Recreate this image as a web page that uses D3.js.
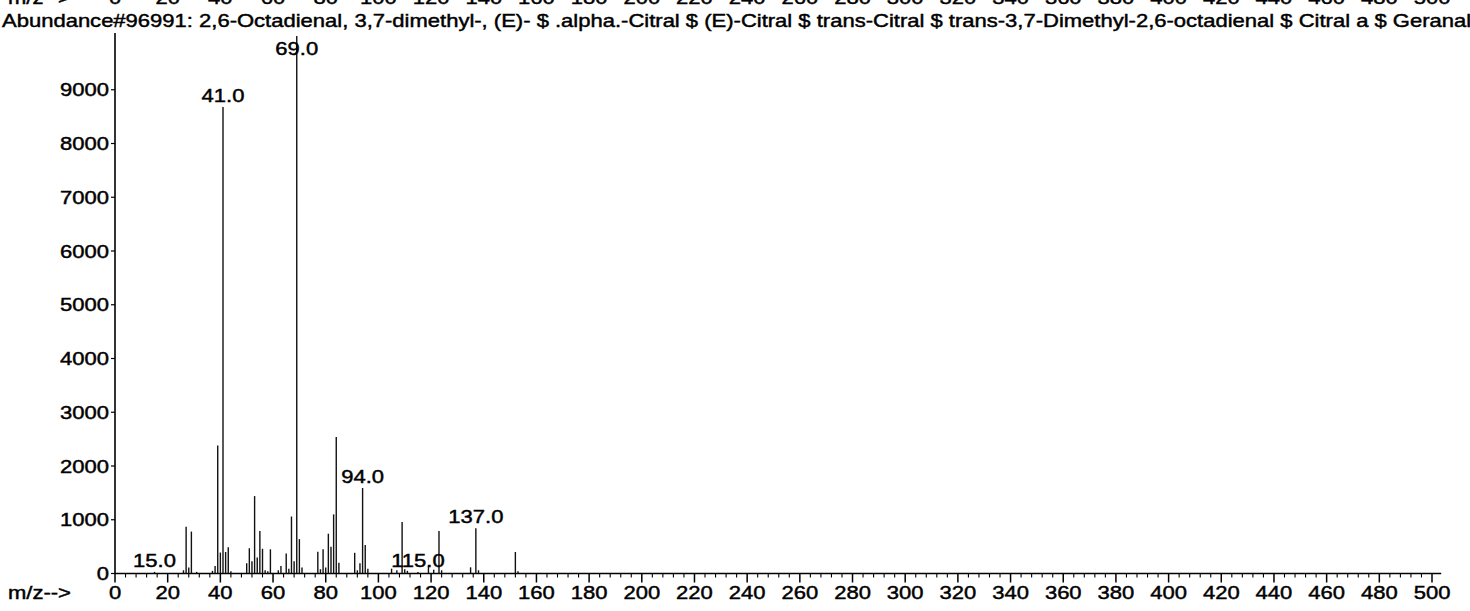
<!DOCTYPE html>
<html><head><meta charset="utf-8">
<script src="https://cdn.jsdelivr.net/npm/d3@7"></script>
<style>html,body{margin:0;padding:0;background:#fff;overflow:hidden}</style>
</head><body>
<script>
const titleText = "Abundance#96991: 2,6-Octadienal, 3,7-dimethyl-, (E)- $ .alpha.-Citral $ (E)-Citral $ trans-Citral $ trans-3,7-Dimethyl-2,6-octadienal $ Citral a $ Geranaldehyde";
const axisName = "m/z-->";
const mz =        [15, 26, 27, 28, 29, 31, 37, 38, 39, 40, 41, 42, 43, 44, 50, 51, 52, 53, 54, 55, 56, 57, 58, 59, 62, 63, 65, 66, 67, 68, 69, 70, 71, 77, 78, 79, 80, 81, 82, 83, 84, 85, 91, 92, 93, 94, 95, 96, 105, 107, 109, 110, 111, 115, 119, 121, 123, 124, 135, 137, 138, 152, 153];
const abundance = [30, 60, 870, 110, 780, 30, 50, 140, 2380, 390, 8680, 400, 490, 40, 190, 470, 230, 1440, 300, 790, 460, 60, 40, 450, 60, 140, 370, 90, 1060, 230, 9999, 640, 110, 405, 80, 450, 110, 740, 500, 1100, 2540, 200, 385, 60, 190, 1590, 530, 90, 90, 60, 960, 80, 50, 30, 150, 70, 790, 60, 115, 840, 60, 400, 40];
const labeledMz = [15, 41, 69, 94, 115, 137];
const xTickLabels = d3.range(0, 501, 20);
const yTickLabels = d3.range(0, 9001, 1000);

const W = 1470, H = 611;
const FS = 18.5, SX = 1.19;
const svg = d3.select("body").append("svg").attr("width", W).attr("height", H)
  .style("font-family", "'Liberation Sans', Arial, sans-serif");
svg.append("rect").attr("width", W).attr("height", H).attr("fill", "#fff");

const x = d3.scaleLinear().domain([0, 500]).range([115, 1432]);
const y = d3.scaleLinear().domain([0, 10000]).range([573.5, 36]);

function txt(g, s, px, py, anchor) {
  return g.append("text").attr("transform", `translate(${px},${py}) scale(${SX},1)`)
    .attr("text-anchor", anchor || "start").attr("font-size", FS)
    .attr("fill", "#000").attr("stroke", "#000").attr("stroke-width", 0.45).text(s);
}

// clipped top row (axis of previous panel)
txt(svg, axisName, 8, 4);
xTickLabels.forEach(v => txt(svg, v, x(v), 4, "middle"));

// title
txt(svg, titleText, 2, 27);

// y axis
const gy = svg.append("g");
gy.append("line").attr("x1", x(0)).attr("x2", x(0)).attr("y1", 33).attr("y2", y(0))
  .attr("stroke", "#000").attr("stroke-width", 1.6);
yTickLabels.forEach(v => {
  gy.append("line").attr("x1", x(0) - 4).attr("x2", x(0)).attr("y1", y(v)).attr("y2", y(v))
    .attr("stroke", "#000").attr("stroke-width", 1.2);
  txt(gy, v, x(0) - 6, y(v) + 6.5, "end");
});

// x axis
const gx = svg.append("g");
gx.append("line").attr("x1", x(0)).attr("x2", x(503.5)).attr("y1", y(0)).attr("y2", y(0))
  .attr("stroke", "#000").attr("stroke-width", 1.6);
d3.range(0, 501, 4).forEach(v => {
  const major = v % 20 === 0;
  gx.append("line").attr("x1", x(v)).attr("x2", x(v)).attr("y1", y(0)).attr("y2", y(0) + (major ? 9 : 4))
    .attr("stroke", "#000").attr("stroke-width", major ? 1.5 : 1.1);
});
xTickLabels.forEach(v => txt(gx, v, x(v), 599, "middle"));
txt(gx, axisName, 8, 599);

// peaks
const peaks = mz.map((m, i) => ({ m, v: abundance[i] }));
svg.append("g").selectAll("line").data(peaks).join("line")
  .attr("x1", d => x(d.m)).attr("x2", d => x(d.m))
  .attr("y1", y(0)).attr("y2", d => y(d.v))
  .attr("stroke", "#111").attr("stroke-width", 1.4);

// peak labels
const gl = svg.append("g");
peaks.filter(d => labeledMz.includes(d.m)).forEach(d => {
  const base = Math.max(y(d.v) - 5, 55);
  txt(gl, d.m.toFixed(1), x(d.m), base, "middle");
});
</script>
</body></html>
